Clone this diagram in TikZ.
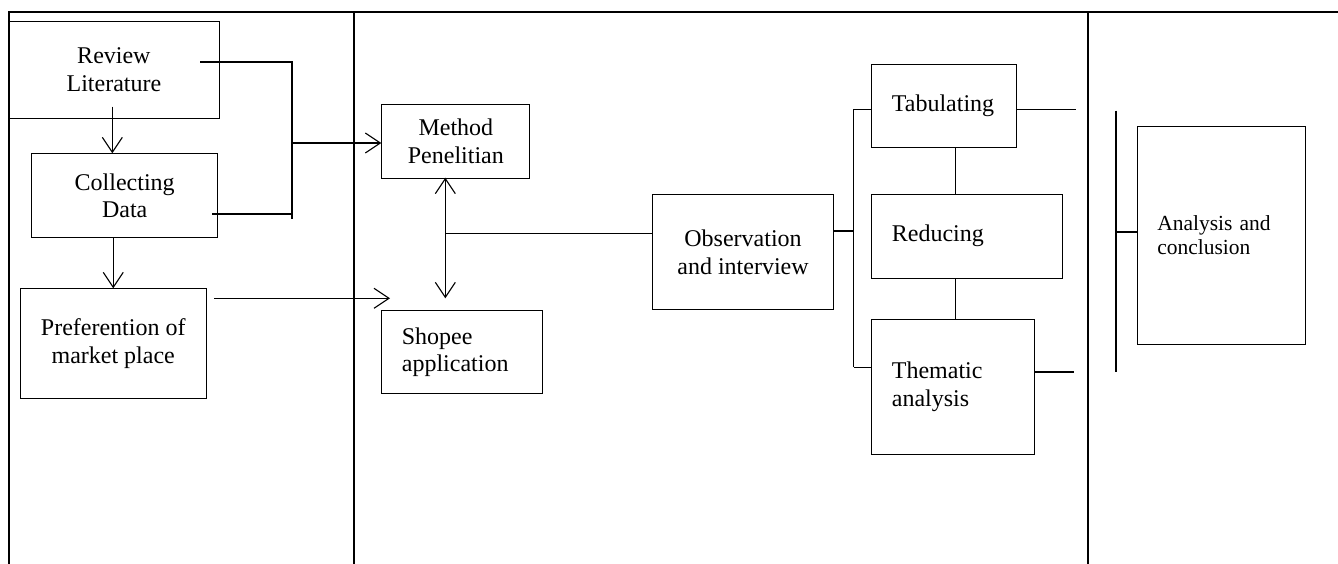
\documentclass[tikz,border=0pt]{standalone}
\usepackage{fontspec}
\setmainfont{Liberation Serif}
\usetikzlibrary{arrows.meta}
\begin{document}
\begin{tikzpicture}[x=1pt,y=-1pt,
  box/.style={draw, line width=1.1pt, anchor=north west, inner sep=0pt, align=center,
    font=\fontsize{24}{27.6}\selectfont},
  lbox/.style={draw, line width=1.1pt, anchor=north west, inner xsep=20pt, inner ysep=0pt, align=left,
    font=\fontsize{24}{27.6}\selectfont},
  conn/.style={line width=1.1pt},
  arr/.style={line width=1.1pt, -{Straight Barb[length=15pt,width=20pt]}},
  darr/.style={line width=1.1pt, {Straight Barb[length=15pt,width=20pt]}-{Straight Barb[length=15pt,width=20pt]}},
  border/.style={line width=2.2pt}]
\useasboundingbox (0,0) rectangle (1338,564);
% frame
\draw[border] (8.7,564) -- (8.7,12) -- (1338,12);
\draw[border] (354,12) -- (354,564);
\draw[border] (1087.7,12) -- (1087.7,564);
% boxes
\node[box, minimum width=210.7pt, minimum height=96.6pt] (rev) at (8,21) {Review\\Literature};
\node[box, minimum width=186.3pt, minimum height=83.7pt] (col) at (31,153.3) {Collecting\\Data};
\node[box, minimum width=186pt, minimum height=109.7pt] (pref) at (19.7,288.3) {Preferention of\\market place};
\node[box, minimum width=148pt, minimum height=74pt] (meth) at (381.3,103.7) {Method\\Penelitian};
\node[lbox, text width=120.4pt, minimum height=83.6pt] (shop) at (381.3,309.7) {Shopee\\application};
\node[box, minimum width=180.4pt, minimum height=115.6pt] (obs) at (652.3,193.7) {Observation\\and interview};
\node[lbox, text width=104.4pt, minimum height=83.6pt] (tab) at (871.3,63.7) {Tabulating};
\node[lbox, text width=151pt, minimum height=84pt] (red) at (871.3,193.7) {Reducing};
\node[lbox, text width=122.4pt, minimum height=135.6pt] (them) at (871.3,318.7) {Thematic\\analysis};
\node[lbox, text width=128pt, minimum height=218pt, font=\fontsize{21.5}{24}\selectfont] (ana) at (1136.7,126) {Analysis and\\conclusion};
% coordinates
\coordinate (ra) at (112.3,106.7);
\coordinate (rs) at (200,62);
\coordinate (cs) at (212.3,214);
\coordinate (bt) at (292,62);
\coordinate (bb) at (292,219);
\coordinate (bm) at (292,143);
\coordinate (ps) at (214.3,298.3);
\coordinate (pe) at (390,298.3);
\coordinate (dt) at (445.3,177.7);
\coordinate (db) at (445.3,298.3);
\coordinate (dm) at (445.3,233.3);
\coordinate (ot) at (853.7,109.3);
\coordinate (ob) at (853.7,367.3);
\coordinate (om) at (853.7,231);
\coordinate (tr) at (955.7,0);
\coordinate (te) at (1076,109.3);
\coordinate (he) at (1073.7,372);
\coordinate (at) at (1116,110.7);
\coordinate (ab) at (1116,371.7);
\coordinate (am) at (1116,232);
% connectors
\draw[arr] (ra) -- (ra |- col.north);
\draw[arr] (pref.north |- col.south) -- (pref.north);
\draw[conn] (rs) -- (bt) -- (bb);
\draw[conn] (cs) -- (cs -| bt);
\draw[arr] (bm) -- (bm -| meth.west);
\draw[arr] (ps) -- (pe);
\draw[darr] (dt) -- (db);
\draw[conn] (dm) -- (dm -| obs.west);
\draw[conn] (om -| obs.east) -- (om);
\draw[conn] (ot) -- (ob);
\draw[conn] (ot) -- (ot -| tab.west);
\draw[conn] (ob) -- (ob -| them.west);
\draw[conn] (tr |- tab.south) -- (tr |- red.north);
\draw[conn] (tr |- red.south) -- (tr |- them.north);
\draw[conn] (te -| tab.east) -- (te);
\draw[conn] (he -| them.east) -- (he);
\draw[conn] (at) -- (ab);
\draw[conn] (am) -- (am -| ana.west);
\end{tikzpicture}
\end{document}
